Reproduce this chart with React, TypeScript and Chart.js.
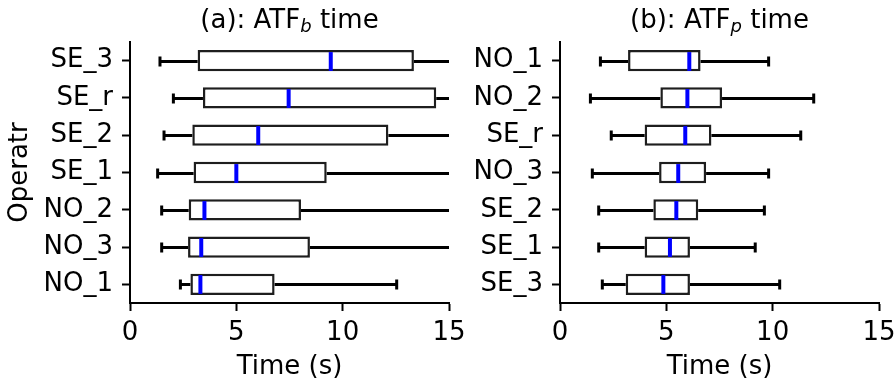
import React, { useEffect, useRef } from 'react';
import { Chart, registerables } from 'chart.js';

Chart.register(...registerables);

const FONT = "'DejaVu Sans', sans-serif";
const FS = 26;

// Panel (a): ATF_b time
const LEFT_CATEGORIES = ['SE_3', 'SE_r', 'SE_2', 'SE_1', 'NO_2', 'NO_3', 'NO_1'];
const LEFT_LOW = [1.41, 2.04, 1.6, 1.3, 1.49, 1.49, 2.37];
const LEFT_Q1 = [3.18, 3.43, 2.93, 2.99, 2.76, 2.73, 2.84];
const LEFT_MEDIAN = [9.44, 7.46, 6.03, 5.0, 3.5, 3.35, 3.31];
const LEFT_Q3 = [13.35, 14.4, 12.15, 9.25, 8.04, 8.46, 6.8];
const LEFT_HIGH = [17.8, 16.9, 17.2, 16.4, 16.1, 16.6, 12.54];

// Panel (b): ATF_p time
const RIGHT_CATEGORIES = ['NO_1', 'NO_2', 'SE_r', 'NO_3', 'SE_2', 'SE_1', 'SE_3'];
const RIGHT_LOW = [1.9, 1.43, 2.41, 1.52, 1.82, 1.82, 1.99];
const RIGHT_Q1 = [3.2, 4.72, 3.98, 4.66, 4.39, 3.98, 3.09];
const RIGHT_MEDIAN = [6.08, 5.99, 5.89, 5.56, 5.47, 5.17, 4.86];
const RIGHT_Q3 = [6.61, 7.62, 7.12, 6.87, 6.5, 6.11, 6.11];
const RIGHT_HIGH = [9.81, 11.93, 11.32, 9.81, 9.61, 9.18, 10.33];

const X_TICKS = [0, 5, 10, 15];

type PanelProps = {
  left: number;
  width: number;
  yAxisWidth: number;
  padRight: number;
  categories: string[];
  low: number[];
  q1: number[];
  median: number[];
  q3: number[];
  high: number[];
  titlePre: string;
  titleSub: string;
  titlePost: string;
  yTitle: string | null;
};

function whiskerPlugin(low: number[], median: number[], high: number[]) {
  return {
    id: 'whiskers',
    afterDatasetsDraw(chart: any) {
      const { ctx, chartArea: a } = chart;
      const xs = chart.scales.x;
      const ys = chart.scales.y;
      const meta = chart.getDatasetMeta(0);
      const ds = chart.data.datasets[0].data as number[][];
      ctx.save();
      ctx.beginPath();
      ctx.rect(a.left, 0, a.right - a.left, chart.height);
      ctx.clip();
      meta.data.forEach((bar: any, i: number) => {
        const yc = Math.round(ys.getPixelForValue(i)) + 0.5;
        const half = bar.height / 2 - 1.2;
        const xl = xs.getPixelForValue(low[i]);
        const x1 = xs.getPixelForValue(ds[i][0]);
        const x3 = xs.getPixelForValue(ds[i][1]);
        const xh = xs.getPixelForValue(high[i]);
        const xm = xs.getPixelForValue(median[i]);
        ctx.strokeStyle = '#000';
        ctx.lineCap = 'butt';
        ctx.lineWidth = 3;
        ctx.beginPath();
        ctx.moveTo(xl, yc);
        ctx.lineTo(x1, yc);
        ctx.moveTo(x3, yc);
        ctx.lineTo(xh, yc);
        ctx.stroke();
        ctx.beginPath();
        ctx.moveTo(xl, yc - 5);
        ctx.lineTo(xl, yc + 5);
        ctx.moveTo(xh, yc - 5);
        ctx.lineTo(xh, yc + 5);
        ctx.stroke();
        ctx.strokeStyle = '#0000ff';
        ctx.lineWidth = 4;
        ctx.beginPath();
        ctx.moveTo(xm, yc - half);
        ctx.lineTo(xm, yc + half);
        ctx.stroke();
      });
      ctx.restore();
    },
  };
}

function titlePlugin(pre: string, sub: string, post: string) {
  return {
    id: 'panelTitle',
    afterDraw(chart: any) {
      const { ctx, chartArea: a } = chart;
      const mainFont = `${FS}px ${FONT}`;
      const subFont = `italic ${Math.round(FS * 0.7)}px ${FONT}`;
      ctx.save();
      ctx.fillStyle = '#000';
      ctx.textBaseline = 'alphabetic';
      ctx.textAlign = 'left';
      ctx.font = mainFont;
      const w1 = ctx.measureText(pre).width;
      const w3 = ctx.measureText(post).width;
      ctx.font = subFont;
      const w2 = ctx.measureText(sub).width;
      const x0 = (a.left + a.right) / 2 - (w1 + w2 + w3) / 2;
      const yb = 28;
      ctx.font = mainFont;
      ctx.fillText(pre, x0, yb);
      ctx.font = subFont;
      ctx.fillText(sub, x0 + w1, yb + 4);
      ctx.font = mainFont;
      ctx.fillText(post, x0 + w1 + w2, yb);
      ctx.restore();
    },
  };
}

function Panel(p: PanelProps) {
  const ref = useRef<HTMLCanvasElement>(null);
  useEffect(() => {
    const font = { family: FONT, size: FS };
    const chart = new Chart(ref.current as HTMLCanvasElement, {
      type: 'bar',
      data: {
        labels: p.categories,
        datasets: [
          {
            data: p.q1.map((v, i) => [v, p.q3[i]]) as any,
            backgroundColor: '#ffffff',
            borderColor: '#1e1e1e',
            borderWidth: 2.5,
            borderSkipped: false,
            barPercentage: 0.57,
            categoryPercentage: 1,
          },
        ],
      },
      options: {
        indexAxis: 'y',
        responsive: false,
        animation: false,
        devicePixelRatio: 1,
        layout: { padding: { left: 0, right: p.padRight, top: 42, bottom: 0 } },
        plugins: {
          legend: { display: false },
          tooltip: { enabled: false },
          title: { display: false },
        },
        scales: {
          x: {
            type: 'linear',
            min: 0,
            max: 15,
            afterBuildTicks: (s: any) => {
              s.ticks = X_TICKS.map((v) => ({ value: v }));
            },
            ticks: { font, color: '#000', padding: 7, maxRotation: 0 },
            grid: {
              drawOnChartArea: false,
              drawTicks: true,
              tickLength: 8,
              tickWidth: 2,
              tickColor: '#000',
            },
            border: { display: true, color: '#000', width: 2 },
            title: {
              display: true,
              text: 'Time (s)',
              font,
              color: '#000',
              padding: { top: 0, bottom: 2 },
            },
            afterFit: (s: any) => {
              s.height = 82;
              s.paddingLeft = 0;
              s.paddingRight = 0;
            },
          },
          y: {
            type: 'category',
            ticks: { font, color: '#000', padding: 9, autoSkip: false },
            grid: {
              offset: false,
              drawOnChartArea: false,
              drawTicks: true,
              tickLength: 8,
              tickWidth: 2,
              tickColor: '#000',
            },
            border: { display: true, color: '#000', width: 2 },
            title: {
              display: !!p.yTitle,
              text: p.yTitle || '',
              font,
              color: '#000',
              padding: { top: 5, bottom: 0 },
            },
            afterFit: (s: any) => {
              s.width = p.yAxisWidth;
              s.paddingTop = 0;
              s.paddingBottom = 0;
            },
          },
        },
      } as any,
      plugins: [whiskerPlugin(p.low, p.median, p.high), titlePlugin(p.titlePre, p.titleSub, p.titlePost)],
    });
    return () => chart.destroy();
  }, []);
  return (
    <canvas
      ref={ref}
      width={p.width}
      height={385}
      style={{ position: 'absolute', left: p.left, top: 0, width: p.width, height: 385 }}
    />
  );
}

export default function App() {
  return (
    <div style={{ position: 'fixed', left: 0, top: 0, width: 896, height: 385, background: '#fff', overflow: 'hidden' }}>
      <Panel
        left={0}
        width={470}
        yAxisWidth={130}
        padRight={21}
        categories={LEFT_CATEGORIES}
        low={LEFT_LOW}
        q1={LEFT_Q1}
        median={LEFT_MEDIAN}
        q3={LEFT_Q3}
        high={LEFT_HIGH}
        titlePre="(a): ATF"
        titleSub="b"
        titlePost=" time"
        yTitle="Operatr"
      />
      <Panel
        left={470}
        width={426}
        yAxisWidth={90}
        padRight={17}
        categories={RIGHT_CATEGORIES}
        low={RIGHT_LOW}
        q1={RIGHT_Q1}
        median={RIGHT_MEDIAN}
        q3={RIGHT_Q3}
        high={RIGHT_HIGH}
        titlePre="(b): ATF"
        titleSub="p"
        titlePost=" time"
        yTitle={null}
      />
    </div>
  );
}
